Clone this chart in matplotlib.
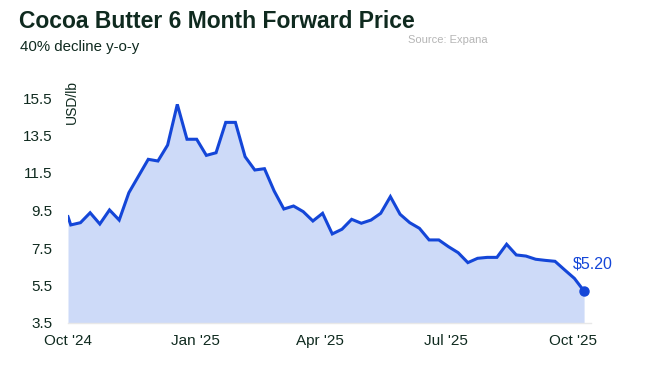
import matplotlib
matplotlib.use("Agg")
import matplotlib.pyplot as plt
import pandas as pd

# weekly forward price, USD/lb
first_date = '2024-10-01'
weekly_start = '2024-10-03'
prices = [9.17, 8.73, 8.85, 9.38, 8.78, 9.53, 8.99, 10.45, 11.34, 12.23,
          12.14, 12.99, 15.16, 13.30, 13.30, 12.44, 12.58, 14.20, 14.20, 12.37,
          11.66, 11.73, 10.54, 9.58, 9.74, 9.44, 8.94, 9.35, 8.25, 8.50,
          9.03, 8.82, 8.99, 9.35, 10.24, 9.30, 8.85, 8.55, 7.93, 7.93,
          7.57, 7.25, 6.72, 6.95, 7.00, 7.00, 7.70, 7.13, 7.07, 6.90,
          6.84, 6.79, 6.33, 5.88, 5.20]
tick_dates = ['2024-10-01', '2025-01-01', '2025-04-01', '2025-07-01', '2025-10-01']
tick_labels = ["Oct '24", "Jan '25", "Apr '25", "Jul '25", "Oct '25"]
yticks = [3.5, 5.5, 7.5, 9.5, 11.5, 13.5, 15.5]

dates = [pd.Timestamp(first_date)] + list(pd.date_range(weekly_start, periods=len(prices) - 1, freq='7D'))

blue = '#1446d8'
fill = '#cddaf8'
dark = '#0f2a1f'
plt.rcParams['font.family'] = ['Liberation Sans', 'DejaVu Sans']

fig = plt.figure(figsize=(6.53, 3.66), dpi=100)
ax = fig.add_axes([68 / 653, 1 - 323 / 366, (591 - 68) / 653, (323 - 79.25) / 366])

ax.fill_between(dates, prices, 3.5, color=fill, lw=0)
ax.plot(dates, prices, color=blue, lw=2.2, solid_joinstyle='miter')
ax.plot(dates[-1], prices[-1], 'o', color=blue, ms=6.5)
ax.annotate('$%.2f' % prices[-1], (dates[-1], prices[-1]), xytext=(-8, 16),
            textcoords='offset points', color=blue, fontsize=11.5, ha='left')

ax.set_ylim(3.5, 16.5)
ax.set_xlim(pd.Timestamp(first_date), dates[-1] + pd.Timedelta(days=5))
ax.set_yticks(yticks)
ax.set_yticklabels([str(v) for v in yticks])
ax.set_xticks([pd.Timestamp(d) for d in tick_dates])
ax.set_xticklabels(tick_labels)
ax.tick_params(length=0, labelsize=11, colors=dark)
ax.tick_params(axis='x', pad=16)
ax.tick_params(axis='y', pad=11)
for lbl in ax.get_xticklabels():
    lbl.set_va('baseline')
for s in ['top', 'right', 'left']:
    ax.spines[s].set_visible(False)
ax.spines['bottom'].set_color('#e8e8e8')
ax.spines['bottom'].set_linewidth(1)

fig.text(72 / 653, 1 - 80 / 366, 'USD/lb', rotation=90,
         ha='center', va='top', fontsize=10, color=dark)
fig.text(19 / 653, 1 - 28 / 366, 'Cocoa Butter 6 Month Forward Price', fontsize=16.5,
         color=dark, weight='bold', va='baseline')
fig.text(20 / 653, 1 - 51 / 366, '40% decline y-o-y', fontsize=10.8, color=dark, va='baseline')
fig.text(408 / 653, 1 - 43 / 366, 'Source: Expana', fontsize=8, color='#b5b5b5', va='baseline')

fig.savefig('out.png', dpi=100)
